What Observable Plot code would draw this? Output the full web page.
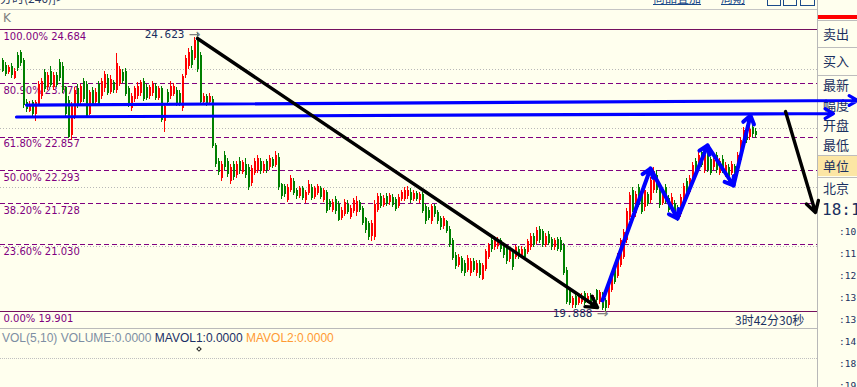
<!DOCTYPE html>
<html><head><meta charset="utf-8">
<script src="https://cdn.jsdelivr.net/npm/d3@7"></script>
<script src="https://cdn.jsdelivr.net/npm/@observablehq/plot@0.6"></script>
<style>
html,body{margin:0;padding:0;background:#FFFFEE;}
#wrap{position:relative;width:857px;height:387px;overflow:hidden;background:#FFFFEE;}
.abs{position:absolute;white-space:nowrap;}
.cjk{font-family:"Noto Sans CJK SC",sans-serif;}
.pl{position:absolute;left:823px;font:13px "Noto Sans CJK SC",sans-serif;color:#1a3060;line-height:16px;white-space:nowrap;}
.tm{position:absolute;left:839px;font:9.5px "DejaVu Sans Mono",monospace;color:#1a3060;line-height:14px;}
.hl{position:absolute;height:1px;background:#bdbdbd;}
#chart{position:absolute;left:0;top:0;}
</style></head><body><div id="wrap">
<!-- header -->
<div class="abs cjk" style="left:0;top:-11px;font-size:12px;color:#2a3a60;">分时(240)]&gt;</div>
<div class="abs cjk" style="left:653px;top:-11px;font-size:12px;color:#1a4a8a;text-decoration:underline;">商品叠加</div>
<div class="abs cjk" style="left:721px;top:-11px;font-size:12px;color:#1a4a8a;text-decoration:underline;">周期</div>
<div class="abs" style="left:767px;top:-6px;width:12px;height:10px;border:1px solid #1a4a8a;"></div>
<div class="abs" style="left:783px;top:-6px;width:12px;height:10px;border:1px solid #1a4a8a;"></div>
<div class="abs" style="left:800px;top:-6px;width:13px;height:10px;border:1px solid #1a4a8a;"></div>
<div class="hl" style="left:0;top:9px;width:817px;background:#c4c4c4;"></div>
<div class="abs" style="left:3px;top:11px;font:12px 'DejaVu Sans',sans-serif;color:#808080;">K</div>
<!-- volume pane -->
<div class="hl" style="left:0;top:328px;width:817px;background:#bababa;"></div>
<div class="abs" style="left:0;top:358px;width:817px;border-top:1px dotted #c0c0c0;"></div>
<div class="abs" style="left:2px;top:331px;font:12px 'Liberation Sans',sans-serif;">
<span style="color:#7d8ea3">VOL(5,10) VOLUME:0.0000</span> <span style="color:#1b2f66">MAVOL1:0.0000</span> <span style="color:#ff9a33">MAVOL2:0.0000</span></div>
<div class="abs" style="left:197px;top:347px;width:2px;height:2px;border:1px solid #222;transform:rotate(45deg);"></div>
<div class="abs cjk" style="left:735px;top:311px;font-size:12px;color:#1a3060;">3时42分30秒</div>
<!-- right panel -->
<div class="abs" style="left:817px;top:0;width:1px;height:387px;background:#b8b8b8;"></div>
<div class="abs" style="left:818px;top:15px;width:39px;height:4px;background:#ff0000;"></div>
<div class="hl" style="left:818px;top:20px;width:39px;"></div>
<div class="hl" style="left:818px;top:47px;width:39px;"></div>
<div class="hl" style="left:818px;top:75px;width:39px;"></div>
<div class="abs" style="left:818px;top:156px;width:39px;height:20px;background:#fce6a4;"></div>
<div class="hl" style="left:818px;top:155px;width:39px;"></div>
<div class="hl" style="left:818px;top:177px;width:39px;"></div>
<div class="pl" style="top:26px;">卖出</div>
<div class="pl" style="top:53px;">买入</div>
<div class="pl" style="top:77px;">最新</div>
<div class="pl" style="top:97px;">幅度</div>
<div class="pl" style="top:117px;">开盘</div>
<div class="pl" style="top:137px;">最低</div>
<div class="pl" style="top:158px;">单位</div>
<div class="pl" style="top:180px;">北京</div>
<div class="abs" style="left:822px;top:200px;font:16px 'DejaVu Sans Mono',monospace;color:#1a3060;">18:17</div>
<div class="tm" style="top:225px;">:10</div>
<div class="tm" style="top:247px;">:11</div>
<div class="tm" style="top:269px;">:12</div>
<div class="tm" style="top:291px;">:13</div>
<div class="tm" style="top:313px;">:13</div>
<div class="tm" style="top:335px;">:14</div>
<div class="tm" style="top:357px;">:18</div>
<div class="tm" style="top:379px;">:19</div>
<div id="chart"></div>
</div>
<script>
// Fibonacci retracement levels
const fibPercents = ["100.00%","80.90%","61.80%","50.00%","38.20%","23.60%","0.00%"];
const fibPrices = [24.684,23.771,22.857,22.293,21.728,21.030,19.901];
const fibSolid = [true,false,false,false,false,false,true];
// dotted price gridlines
const gridPrices = [21,22,23,24];
// candles: [open, close, high, low]
const candles = [
[24.15,23.98,24.2,23.95],[24.08,23.92,24.12,23.88],[23.95,24.04,24.08,23.92],[24.05,23.9,24.1,23.86],[23.86,23.98,24.02,23.83],
[24.25,24.02,24.3,23.98],[24.3,24.1,24.33,24.05],[24.15,23.4,24.2,23.35],[23.45,23.32,23.5,23.28],[23.3,23.42,23.46,23.27],
[23.44,23.25,23.48,23.2],[23.24,23.44,23.48,23.12],[23.42,23.75,23.8,23.38],[23.55,23.8,23.85,23.5],[23.95,23.66,24.0,23.62],
[23.7,23.9,23.95,23.65],[23.98,23.74,24.05,23.7],[23.7,23.9,23.95,23.65],[23.9,23.74,23.95,23.7],[24.12,23.85,24.18,23.8],
[24.05,23.65,24.12,23.6],[23.7,23.24,23.72,23.2],[23.48,22.85,23.55,22.84],[22.88,23.42,23.45,22.8],[23.2,23.65,23.7,23.15],
[23.68,23.4,23.75,23.35],[23.45,23.72,23.75,23.4],[23.8,23.5,23.85,23.45],[23.75,23.2,23.8,23.18],[23.25,23.62,23.65,23.22],
[23.65,23.42,23.7,23.38],[23.45,23.62,23.68,23.4],[23.75,23.42,23.8,23.4],[23.55,23.8,23.86,23.5],[23.68,23.92,23.98,23.62],
[23.86,23.6,23.92,23.56],[23.62,23.84,23.9,23.58],[23.78,23.65,23.82,23.6],[23.65,24.1,24.28,23.6],[23.75,24.0,24.05,23.72],
[23.96,23.8,24.0,23.76],[23.98,23.58,24.02,23.55],[23.68,23.4,23.72,23.36],[23.35,23.55,23.6,23.3],[23.5,23.68,23.72,23.45],
[23.55,23.72,23.78,23.5],[23.6,23.78,23.82,23.55],[23.8,23.5,23.85,23.46],[23.7,23.52,23.75,23.48],[23.55,23.7,23.74,23.5],
[23.6,23.75,23.8,23.55],[23.72,23.52,23.76,23.48],[23.52,23.68,23.72,23.48],[23.68,23.14,23.72,23.1],[23.12,23.38,23.42,22.93],
[23.62,23.45,23.66,23.42],[23.55,23.72,23.8,23.5],[23.58,23.72,23.76,23.55],[23.65,23.42,23.7,23.38],[23.6,23.4,23.65,23.38],
[23.35,23.88,23.92,23.3],[23.9,24.2,24.25,23.85],[24.05,24.3,24.36,24.0],[24.33,24.08,24.4,24.02],[24.2,24.5,24.55,24.15],
[24.5,24.0,24.623,23.95],[24.25,23.45,24.3,23.4],[23.45,23.55,23.6,23.4],[23.55,23.42,23.58,23.38],[23.45,23.55,23.6,23.42],
[23.5,22.7,23.55,22.66],[22.72,22.4,22.75,22.35],[22.45,22.26,22.5,22.2],[22.15,22.4,22.45,22.1],[22.55,22.34,22.62,22.3],
[22.45,22.22,22.5,22.18],[22.1,22.35,22.4,22.05],[22.4,22.17,22.45,22.12],[22.2,22.4,22.45,22.15],[22.45,22.27,22.52,22.22],
[22.26,22.42,22.46,22.22],[22.4,22.2,22.5,22.16],[22.35,22.0,22.4,21.96],[22.07,22.32,22.38,22.02],[22.25,22.45,22.5,22.2],
[22.3,22.5,22.55,22.25],[22.45,22.27,22.5,22.22],[22.28,22.4,22.45,22.24],[22.45,22.3,22.48,22.25],[22.35,22.5,22.55,22.3],
[22.48,22.36,22.52,22.32],[22.38,22.55,22.62,22.34],[22.52,22.0,22.58,21.96],[22.05,21.85,22.08,21.8],[22.02,21.88,22.06,21.84],
[21.78,22.0,22.05,21.75],[21.96,22.15,22.2,21.92],[22.1,21.9,22.15,21.86],[21.95,21.85,21.98,21.8],[21.85,21.98,22.02,21.82],
[21.98,21.82,22.02,21.78],[21.78,21.92,21.96,21.74],[21.9,22.05,22.12,21.86],[22.0,21.82,22.05,21.78],[21.84,21.98,22.02,21.8],
[21.9,22.02,22.06,21.86],[21.98,21.84,22.02,21.8],[21.78,21.95,21.98,21.75],[21.92,21.6,21.95,21.56],[21.76,21.66,21.8,21.62],
[21.62,21.75,21.8,21.58],[21.8,21.6,21.85,21.55],[21.72,21.45,21.76,21.42],[21.48,21.62,21.66,21.44],[21.55,21.75,21.8,21.52],
[21.72,21.58,21.78,21.55],[21.5,21.65,21.7,21.46],[21.6,21.78,21.82,21.56],[21.58,21.76,21.85,21.52],[21.75,21.62,21.78,21.58],
[21.65,21.4,21.68,21.36],[21.48,21.28,21.5,21.22],[21.4,21.15,21.42,21.1],[21.18,21.4,21.45,21.08],[21.15,21.72,21.78,21.1],
[21.62,21.85,21.9,21.58],[21.85,21.68,21.9,21.64],[21.7,21.82,21.86,21.66],[21.85,21.72,21.9,21.68],[21.75,21.86,21.9,21.7],
[21.84,21.7,21.88,21.66],[21.8,21.63,21.84,21.6],[21.68,21.84,21.88,21.64],[21.8,21.92,21.96,21.76],[21.8,21.96,22.0,21.76],
[21.85,21.96,22.02,21.8],[21.92,21.78,21.98,21.74],[21.8,21.9,21.95,21.76],[21.9,21.8,21.94,21.76],[21.78,21.88,21.92,21.74],
[21.88,21.6,21.92,21.56],[21.68,21.42,21.72,21.38],[21.62,21.48,21.66,21.44],[21.42,21.68,21.72,21.38],[21.68,21.55,21.72,21.5],
[21.58,21.42,21.62,21.38],[21.48,21.32,21.52,21.28],[21.34,21.48,21.52,21.3],[21.42,21.26,21.45,21.22],[21.3,21.02,21.35,20.98],
[21.1,20.8,21.14,20.76],[20.85,20.66,20.9,20.62],[20.68,20.82,20.86,20.64],[20.8,20.58,20.84,20.54],[20.72,20.55,20.76,20.5],
[20.6,20.8,20.85,20.56],[20.55,20.75,20.8,20.5],[20.75,20.6,20.8,20.56],[20.55,20.72,20.76,20.5],[20.72,20.52,20.76,20.46],
[20.44,20.68,20.72,20.42],[20.62,20.92,20.96,20.58],[20.82,21.02,21.06,20.78],[21.1,20.95,21.14,20.9],[20.98,21.12,21.18,20.94],
[21.0,21.1,21.16,20.96],[21.1,20.95,21.14,20.9],[21.02,20.85,21.06,20.8],[20.98,20.75,21.02,20.7],[20.78,20.92,20.96,20.74],
[20.88,20.65,20.92,20.6],[20.82,20.98,21.02,20.78],[20.95,20.82,21.0,20.78],[20.85,20.96,21.0,20.8],[20.95,20.82,20.98,20.78],
[20.9,21.08,21.12,20.86],[20.98,21.18,21.22,20.94],[21.18,21.02,21.22,20.98],[21.08,21.27,21.32,21.04],[21.3,21.1,21.35,21.06],
[21.25,21.02,21.3,20.98],[21.02,21.18,21.22,20.98],[21.2,21.06,21.25,21.02],[21.12,20.98,21.16,20.94],[20.98,21.1,21.14,20.94],
[21.12,20.95,21.16,20.92],[21.1,20.94,21.16,20.9],[21.02,20.55,21.06,20.52],[20.6,20.06,20.64,20.02],[20.25,20.04,20.3,20.0],
[20.0,20.12,20.16,19.96],[20.15,20.0,20.2,19.95],[20.03,20.13,20.18,20.0],[20.05,20.16,20.2,20.02],[20.2,20.04,20.24,20.0],
[20.08,20.16,20.2,20.04],[20.16,20.0,20.2,19.96],[20.03,20.14,20.18,20.0],[20.25,20.09,20.28,20.06],[20.05,20.22,20.26,20.02],
[20.18,19.96,20.22,19.92],[20.08,19.96,20.12,19.888],[20.0,20.34,20.38,19.95],[20.26,20.52,20.56,20.22],[20.66,20.4,20.7,20.36],
[20.5,20.84,20.88,20.46],[20.68,21.1,21.14,20.64],[20.82,21.24,21.3,20.78],[21.1,21.6,21.65,21.06],[21.5,21.86,21.92,21.45],
[21.95,21.62,22.0,21.58],[21.56,21.88,21.94,21.5],[22.0,21.7,22.05,21.66],[21.9,21.58,21.95,21.54],[21.66,21.95,22.0,21.6],
[21.88,21.72,21.92,21.68],[21.78,22.12,22.18,21.74],[21.95,22.28,22.34,21.9],[22.2,21.95,22.3,21.9],[22.02,21.7,22.08,21.64],
[21.74,21.9,21.96,21.7],[22.0,21.78,22.06,21.72],[21.82,21.62,21.86,21.58],[21.66,21.84,21.9,21.62],[21.74,21.55,21.78,21.5],
[21.66,21.46,21.7,21.42],[21.55,21.84,21.88,21.5],[21.78,22.02,22.08,21.74],[22.1,21.88,22.15,21.84],[21.92,22.15,22.2,21.88],
[22.12,22.38,22.42,22.08],[22.45,22.3,22.5,22.25],[22.32,22.55,22.6,22.28],[22.6,22.38,22.64,22.34],[22.3,22.55,22.6,22.25],
[22.55,22.3,22.6,22.26],[22.48,22.25,22.52,22.2],[22.34,22.46,22.5,22.3],[22.55,22.3,22.6,22.25],[22.25,22.45,22.5,22.2],
[22.48,22.3,22.55,22.25],[22.22,22.38,22.42,22.18],[22.35,22.15,22.4,22.1],[22.25,22.4,22.44,22.2],[22.36,22.2,22.4,22.15],
[22.35,22.55,22.6,22.3],[22.46,22.8,22.85,22.42],[22.75,22.97,23.02,22.7],[23.0,22.8,23.05,22.75],[22.85,22.99,23.1,22.8],
[23.02,22.9,23.12,22.86],[22.96,22.88,23.0,22.84]
];
// labelled extremes: candle index and price
const extremeIdx = [65, 201];
const extremePrices = [24.623, 19.888];
// hand-drawn annotations, in (candle index, price) coordinates: [i1, p1, i2, p2]
const blackArrows = [[65,24.531,198.33,19.969],[261,23.293,271,21.580]];
const blueLines = [[8,23.403,285,23.480],[4.667,23.200,277,23.259]];
const zigzagIdx = [200,216,225,235,243.67,249.33];
const zigzagPrices = [20.088,22.326,21.478,22.717,22.038,23.225];

const data = candles.map((d,i)=>({i, o:d[0], c:d[1], h:d[2], l:d[3]}));
const col = d => d.c >= d.o ? "#ff0000" : "#008000";
const fib = fibPrices.map((p,k)=>({p, label: fibPercents[k]+" "+p.toFixed(3), solid: fibSolid[k]}));
const toSeg = a => ({x1:a[0], y1:a[1], x2:a[2], y2:a[3]});
const zig = zigzagIdx.slice(1).map((x,k)=>({x1:zigzagIdx[k], y1:zigzagPrices[k], x2:x, y2:zigzagPrices[k+1]}));
const ext = extremeIdx.map((i,k)=>({i, p:extremePrices[k], t:extremePrices[k].toFixed(3)}));

const chart = Plot.plot({
  width: 857, height: 387,
  marginLeft: 0, marginRight: 40, marginTop: 0, marginBottom: 0,
  x: {domain: [0, candles.length-1], range: [2, 755], axis: null},
  y: {domain: [19.901, 24.684], range: [311, 29], axis: null},
  style: {background: "transparent", overflow: "visible"},
  marks: [
    Plot.ruleY(gridPrices, {stroke: "#b8b8b8", strokeDasharray: "1,2", shapeRendering: "crispEdges"}),
    Plot.ruleY(fib.filter(d=>!d.solid), {y: "p", stroke: "#800080", strokeWidth: 1, strokeDasharray: "5,3", shapeRendering: "crispEdges"}),
    Plot.ruleY(fib.filter(d=>d.solid), {y: "p", stroke: "#74105f", strokeWidth: 1, shapeRendering: "crispEdges"}),
    Plot.text(fib, {y: "p", text: "label", frameAnchor: "left", textAnchor: "start", dx: 3, dy: 7,
      fill: "#800080", fontSize: 10, fontFamily: "DejaVu Sans"}),
    Plot.ruleX(data, {x: "i", y1: "l", y2: "h", stroke: col, strokeWidth: 1, shapeRendering: "crispEdges"}),
    Plot.ruleX(data, {x: "i", y1: "o", y2: "c", stroke: col, strokeWidth: 2, dx: 0.5, shapeRendering: "crispEdges"}),
    Plot.text(ext, {x: "i", y: "p", text: "t", textAnchor: "end", dx: -13, dy: 1.5,
      fill: "#1a2f5e", fontSize: 11, fontFamily: "DejaVu Sans Mono"}),
    Plot.text(ext, {x: "i", y: "p", text: d => "→", textAnchor: "end", dx: 3, dy: 1,
      fill: "#808080", fontSize: 14, fontFamily: "DejaVu Sans"}),
    Plot.arrow(blueLines.map(toSeg), {x1: "x1", y1: "y1", x2: "x2", y2: "y2",
      stroke: "#0000ff", strokeWidth: 3.2, headLength: 4.5, headAngle: 60}),
    Plot.arrow(zig, {x1: "x1", y1: "y1", x2: "x2", y2: "y2",
      stroke: "#0000ff", strokeWidth: 4, headLength: 3.6, headAngle: 70}),
    Plot.arrow(blackArrows.map(toSeg), {x1: "x1", y1: "y1", x2: "x2", y2: "y2",
      stroke: "#000000", strokeWidth: 3.4, headLength: 5.5, headAngle: 60})
  ]
});
document.getElementById("chart").appendChild(chart);
</script>
</body></html>
